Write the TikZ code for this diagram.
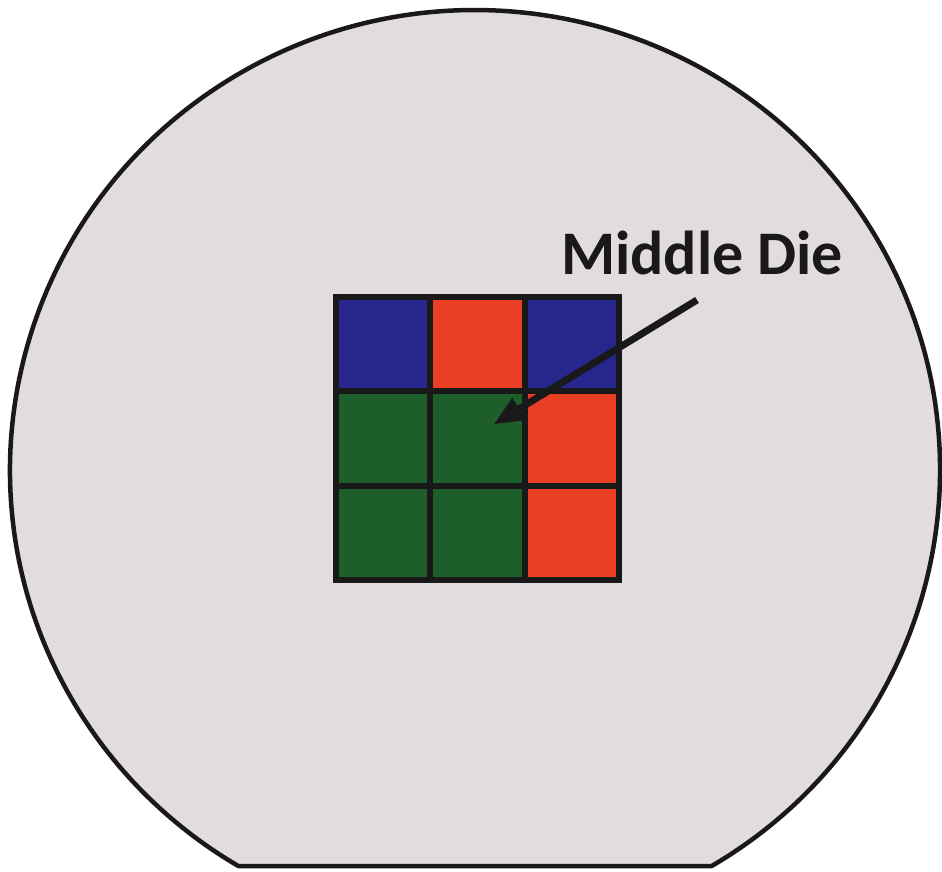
\documentclass[tikz,border=0pt]{standalone}
\usepackage{fontspec}
\setmainfont{Carlito}
\usetikzlibrary{arrows.meta}
\definecolor{waferbg}{RGB}{226,220,225}
\definecolor{dieblue}{RGB}{38,38,140}
\definecolor{diered}{RGB}{232,62,36}
\definecolor{diegreen}{RGB}{30,94,42}
\tikzset{
  die/.style={draw=black!90, line width=6pt, minimum width=94.3pt, minimum height=94.3pt, inner sep=0pt, outer sep=0pt},
  pointer/.style={draw=black!90, line width=7pt, -{Triangle[length=30pt,width=24pt]}}
}
\begin{document}
\begin{tikzpicture}[x=1pt,y=1pt]
\useasboundingbox (0,0) rectangle (942,871);
\fill[white] (0,0) rectangle (942,871);
% wafer with flat
\filldraw[fill=waferbg, draw=black!90, line width=4.5pt, line join=round]
  (238.3,5) -- (711.7,5) arc[start angle=-59.4, end angle=239.4, x radius=465, y radius=460] -- cycle;
% dies
\node[die, fill=dieblue]  (d11) at (383.2,526.8) {};
\node[die, fill=diered]   (d12) at (477.5,526.8) {};
\node[die, fill=dieblue]  (d13) at (571.8,526.8) {};
\node[die, fill=diegreen] (d21) at (383.2,432.5) {};
\node[die, fill=diegreen] (mid) at (477.5,432.5) {};
\node[die, fill=diered]   (d23) at (571.8,432.5) {};
\node[die, fill=diegreen] (d31) at (383.2,338.2) {};
\node[die, fill=diegreen] (d32) at (477.5,338.2) {};
\node[die, fill=diered]   (d33) at (571.8,338.2) {};
% label
\node[anchor=base, inner sep=0pt, text=black!90, font=\fontsize{62}{62}\selectfont\bfseries] (lbl) at (702,596) {Middle Die};
\coordinate (tail) at (697,571);
\coordinate (tip) at ([xshift=16pt,yshift=14pt]mid.center);
\draw[pointer] (tail) -- (tip);
\end{tikzpicture}
\end{document}
